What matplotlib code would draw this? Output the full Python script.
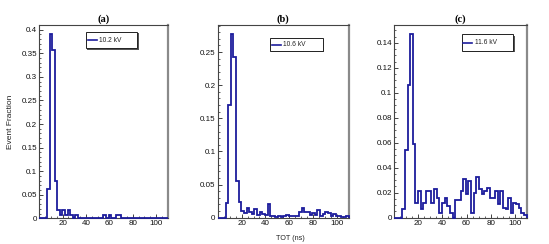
import numpy as np
import matplotlib
matplotlib.use('Agg')
import matplotlib.pyplot as plt
from matplotlib.patches import Rectangle
from matplotlib.ticker import MultipleLocator, FuncFormatter

# TOT histograms, 50 bins of 2.2 ns between 0 and 110 ns
edges = np.arange(51) * 2.2

frac_a = [0, 0, 0, 0.063, 0.390, 0.357, 0.080, 0.017, 0.008, 0.017,
          0.008, 0.017, 0.008, 0, 0.008, 0, 0, 0, 0, 0,
          0, 0, 0, 0, 0, 0.008, 0, 0.008, 0, 0,
          0.008, 0.008, 0, 0, 0, 0, 0, 0, 0, 0,
          0, 0, 0, 0, 0, 0, 0, 0, 0, 0]
frac_b = [0, 0, 0, 0.022, 0.170, 0.277, 0.243, 0.055, 0.024, 0.010,
          0.007, 0.015, 0.008, 0.005, 0.013, 0.004, 0.009, 0.005, 0.004, 0.021,
          0.003, 0.003, 0.001, 0.002, 0.001, 0.002, 0.004, 0.003, 0.002, 0.002,
          0.002, 0.008, 0.014, 0.009, 0.009, 0.004, 0.007, 0.004, 0.012, 0.003,
          0.006, 0.009, 0.007, 0.003, 0.005, 0.003, 0.003, 0.001, 0.001, 0.003]
frac_c = [0, 0, 0, 0.007, 0.054, 0.106, 0.147, 0.059, 0.012, 0.021,
          0.007, 0.012, 0.021, 0.021, 0.012, 0.023, 0.016, 0.004, 0.012, 0.016,
          0.009, 0.004, 0, 0.014, 0.014, 0.021, 0.031, 0.019, 0.029, 0.004,
          0.020, 0.033, 0.023, 0.019, 0.021, 0.024, 0.016, 0.016, 0.021, 0.011,
          0.021, 0.008, 0.007, 0.016, 0.004, 0.012, 0.011, 0.008, 0.004, 0.002]

titles = ['(a)', '(b)', '(c)']
voltages = ['10.2 kV', '10.6 kV', '11.6 kV']
yticks = [np.arange(0, 0.41, 0.05), np.arange(0, 0.26, 0.05), np.arange(0, 0.141, 0.02)]
yminor = [0.01, 0.01, 0.005]
xticks = [20, 40, 60, 80, 100]

W, H = 549, 244
# axes rectangles in pixels: left, right, top, bottom
rects = [(39.3, 167.7, 25.3, 218.3), (217.7, 349, 25, 217.7), (394.3, 526.7, 25, 217.7)]
# legend boxes in pixels: left, right, top, bottom
legboxes = [(86, 137.3, 31.7, 48.3), (270, 322.7, 38.3, 51), (461.7, 513.3, 34.3, 51)]

col = '#1c1c9c'
plt.rcParams['font.family'] = ['Liberation Sans', 'DejaVu Sans']

fig = plt.figure(figsize=(W / 100, H / 100), dpi=100)
fig.patch.set_facecolor('white')

for i, vals in enumerate([frac_a, frac_b, frac_c]):
    l, r, t, b = rects[i]
    ax = fig.add_axes([l / W, (H - b) / H, (r - l) / W, (b - t) / H])
    ax.stairs(vals, edges, color=col, lw=1.3, baseline=0, zorder=3, clip_on=False)
    ax.set_xlim(0, 110)
    ax.set_ylim(0, 1.05 * max(vals))
    ax.set_xticks(xticks)
    ax.xaxis.set_minor_locator(MultipleLocator(5))
    ax.set_yticks(yticks[i])
    ax.yaxis.set_minor_locator(MultipleLocator(yminor[i]))
    ax.yaxis.set_major_formatter(FuncFormatter(lambda v, p: '%g' % round(v, 3)))
    ax.tick_params(which='both', direction='in', labelsize=5.8, colors='#222222',
                   labelcolor='#111111', top=False, right=False, pad=1.5)
    ax.tick_params(which='major', length=3, width=0.6)
    ax.tick_params(which='minor', length=1.6, width=0.5)
    for s in ['left', 'bottom', 'top']:
        ax.spines[s].set_color('#444444')
        ax.spines[s].set_linewidth(0.8)
    ax.spines['right'].set_color('#8a8a8a')
    ax.spines['right'].set_linewidth(1.6)
    ax.set_title(titles[i], fontsize=7.5, fontweight='bold',
                 family=['Liberation Serif', 'DejaVu Serif'], pad=2.5)

    # ROOT-style legend box with shadow
    bl, br, bt, bb = legboxes[i]
    x0 = (bl - l) / (r - l); x1 = (br - l) / (r - l)
    y0 = (b - bb) / (b - t); y1 = (b - bt) / (b - t)
    dx = 1.2 / (r - l); dy = 1.2 / (b - t)
    ax.add_patch(Rectangle((x0 + dx, y0 - dy), x1 - x0, y1 - y0, transform=ax.transAxes,
                           facecolor='#555555', edgecolor='none', zorder=4, clip_on=False))
    ax.add_patch(Rectangle((x0, y0), x1 - x0, y1 - y0, transform=ax.transAxes,
                           facecolor='white', edgecolor='#222222', lw=0.7, zorder=5, clip_on=False))
    ym = (y0 + y1) / 2
    ax.plot([x0 + 1.5 / (r - l), x0 + 10.5 / (r - l)], [ym, ym], transform=ax.transAxes,
            color=col, lw=1.2, zorder=6, clip_on=False)
    ax.text(x0 + 13 / (r - l), ym, voltages[i], transform=ax.transAxes, fontsize=4.8,
            va='center', ha='left', color='#222222', zorder=6)

    if i == 0:
        ax.set_ylabel('Event Fraction', fontsize=6, color='#222222')
        ax.yaxis.set_label_coords((14 - l) / (r - l), 0.5)
    if i == 1:
        ax.set_xlabel('TOT (ns)', fontsize=5.2, color='#222222')
        ax.xaxis.set_label_coords((290 - l) / (r - l), -(235 - b) / (b - t))

fig.savefig('out.png', dpi=100)
